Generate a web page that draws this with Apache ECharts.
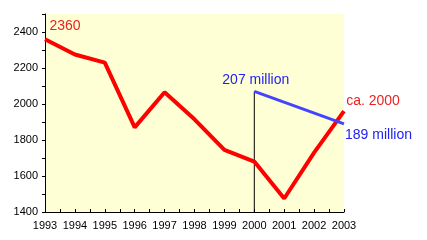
<!DOCTYPE html>
<html>
<head>
<meta charset="utf-8">
<script src="https://cdn.jsdelivr.net/npm/echarts@6/dist/echarts.min.js"></script>
<style>html,body{margin:0;padding:0;background:#fff}#c{width:427px;height:240px}</style>
</head>
<body>
<div id="c"></div>
<script>
var years = [1993, 1994, 1995, 1996, 1997, 1998, 1999, 2000, 2001, 2002, 2003];
var redValues = [2360, 2275, 2230, 1870, 2065, 1915, 1745, 1680, 1475, 1730, 1960];
var blueYears = [2000, 2003];
var blueValues = [207, 189];
var markerYear = 2000;
var yTickLabels = [1400, 1600, 1800, 2000, 2200, 2400];
var redLabels = {first: '2360', last: 'ca. 2000'};
var blueLabels = ['207 million', '189 million'];

var FONT = 'Liberation Sans, Arial, sans-serif';
var chart = echarts.init(document.getElementById('c'), null, {renderer: 'canvas'});

var redData = years.map(function (y, i) {
  var d = {value: [y, redValues[i]]};
  if (i === 0) {
    d.label = {show: true, formatter: redLabels.first, position: 'inside', offset: [20, -13]};
  } else if (i === years.length - 1) {
    d.label = {show: true, formatter: redLabels.last, position: 'inside', offset: [29, -10]};
  }
  return d;
});
var blueData = blueYears.map(function (y, i) {
  return {
    value: [y, blueValues[i]],
    label: {show: true, formatter: blueLabels[i], position: 'inside',
      offset: i === 0 ? [1.5, -11] : [34.5, 11]}
  };
});

chart.setOption({
  animation: false,
  grid: {left: 45, right: 83, top: 14, bottom: 28, show: true, backgroundColor: '#ffffd6', borderWidth: 0},
  xAxis: {
    type: 'value', min: years[0], max: years[years.length - 1], interval: 1,
    axisLine: {lineStyle: {color: '#000', width: 1}},
    axisTick: {inside: true, length: 3, lineStyle: {color: '#000'}},
    minorTick: {show: true, splitNumber: 2, length: 3, lineStyle: {color: '#000'}},
    splitLine: {show: false},
    axisLabel: {color: '#000', fontFamily: FONT, fontSize: 11, margin: 8, formatter: function (v) { return String(v); }}
  },
  yAxis: [{
    type: 'value', min: 1400, max: 2500, interval: 100,
    axisLine: {show: true, lineStyle: {color: '#000', width: 1}},
    axisTick: {show: true, length: 3, lineStyle: {color: '#000'}},
    splitLine: {show: false},
    axisLabel: {color: '#000', fontFamily: FONT, fontSize: 11, margin: 7,
      formatter: function (v) { return yTickLabels.indexOf(v) >= 0 ? String(v) : ''; }}
  }, {
    type: 'value', min: 140, max: 250, show: false, splitLine: {show: false}
  }],
  series: [{
    type: 'line', yAxisIndex: 1, silent: true, symbol: 'none', z: 1,
    data: [[markerYear, blueValues[0]], [markerYear, 140]],
    lineStyle: {color: '#000', width: 1}
  }, {
    type: 'line', data: redData, symbol: 'circle', symbolSize: 0, showSymbol: true, z: 2,
    lineStyle: {color: '#ff0000', width: 4},
    itemStyle: {color: '#ff0000'},
    label: {color: '#ee2222', fontFamily: FONT, fontSize: 14}
  }, {
    type: 'line', yAxisIndex: 1, data: blueData, symbol: 'circle', symbolSize: 0, showSymbol: true, z: 3,
    lineStyle: {color: '#4444ff', width: 3},
    itemStyle: {color: '#4444ff'},
    label: {color: '#2222ee', fontFamily: FONT, fontSize: 14}
  }]
});
</script>
</body>
</html>
